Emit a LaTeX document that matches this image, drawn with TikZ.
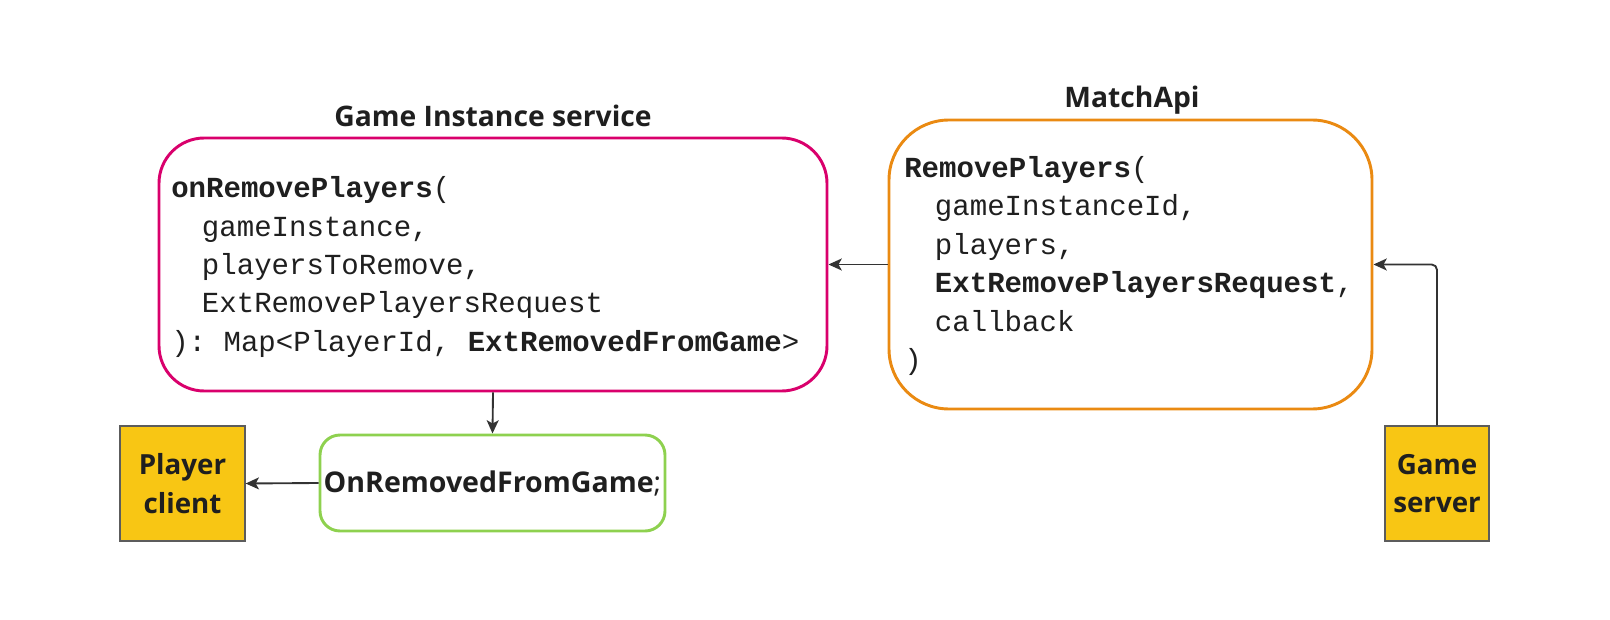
\documentclass[tikz,border=0pt]{standalone}
\usepackage{fontspec}
\setmainfont{Open Sans}[BoldFont={Open Sans Bold}]
\setmonofont{Liberation Mono}
\usetikzlibrary{arrows.meta}
\definecolor{pinkc}{HTML}{D9006C}
\definecolor{orangec}{HTML}{EA8A12}
\definecolor{greenc}{HTML}{8ED14F}
\definecolor{yellowc}{HTML}{F8C614}
\definecolor{darkc}{HTML}{333333}
\definecolor{txtc}{HTML}{1F1F1F}
\newcommand{\ind}{\hspace*{23pt}}
\tikzset{
  rbox/.style={draw, line width=2.2pt, fill=white, rounded corners=#1},
  actor/.style={draw=darkc!80, line width=1pt, fill=yellowc, align=center,
    font=\fontsize{20.8pt}{29pt}\selectfont\bfseries, text=txtc, inner sep=0pt},
  code/.style={align=left, anchor=west, inner sep=0pt, text=txtc,
    font=\fontsize{21.8pt}{28.8pt}\selectfont\ttfamily},
  title/.style={font=\fontsize{21.2pt}{24pt}\selectfont\bfseries, text=txtc},
  conn/.style={draw=darkc, line width=1.4pt, -{Stealth[length=10pt,width=9pt,inset=2.5pt]}},
}
\begin{document}
\begin{tikzpicture}[x=0.75pt,y=-0.75pt]
\useasboundingbox (0,0) rectangle (1610,620);
% boxes
\node[rbox=34pt, draw=pinkc, minimum width=501pt, minimum height=189.75pt] (gi) at (493,264.5) {};
\node[rbox=45pt, draw=orangec, minimum width=362.25pt, minimum height=216.75pt] (ma) at (1130.5,264.5) {};
\node[rbox=15pt, draw=greenc, minimum width=258.75pt, minimum height=72pt,
  font=\fontsize{21.4pt}{24pt}\selectfont, text=txtc, inner sep=0pt] (gr) at (492.5,483) {\textbf{OnRemovedFromGame};};
\node[actor, minimum width=93.75pt, minimum height=86.25pt] (pc) at (182.5,483.5) {Player\\client};
\node[actor, minimum width=78pt, minimum height=86.25pt] (gs) at (1437,483.5) {Game\\server};
% titles
\node[title] (t1) at (493,116) {Game Instance service};
\node[title] (t2) at (1132,100) {MatchApi};
% code
\node[code] (c1) at (171,267) {\textbf{onRemovePlayers}(\\
\ind gameInstance,\\
\ind playersToRemove,\\
\ind ExtRemovePlayersRequest\\
): Map<PlayerId, \textbf{ExtRemovedFromGame}>};
\node[code] (c2) at (904,266) {\textbf{RemovePlayers}(\\
\ind gameInstanceId,\\
\ind players,\\
\ind \textbf{ExtRemovePlayersRequest},\\
\ind callback\\
)};
% connectors
\draw[conn] (ma.west) -- (gi.east);
\draw[conn, rounded corners=4pt] (gs.north) |- (ma.east);
\draw[conn] (gi.south) -- (gr.north);
\draw[conn] (gr.west) -- (pc.east);
\end{tikzpicture}
\end{document}
